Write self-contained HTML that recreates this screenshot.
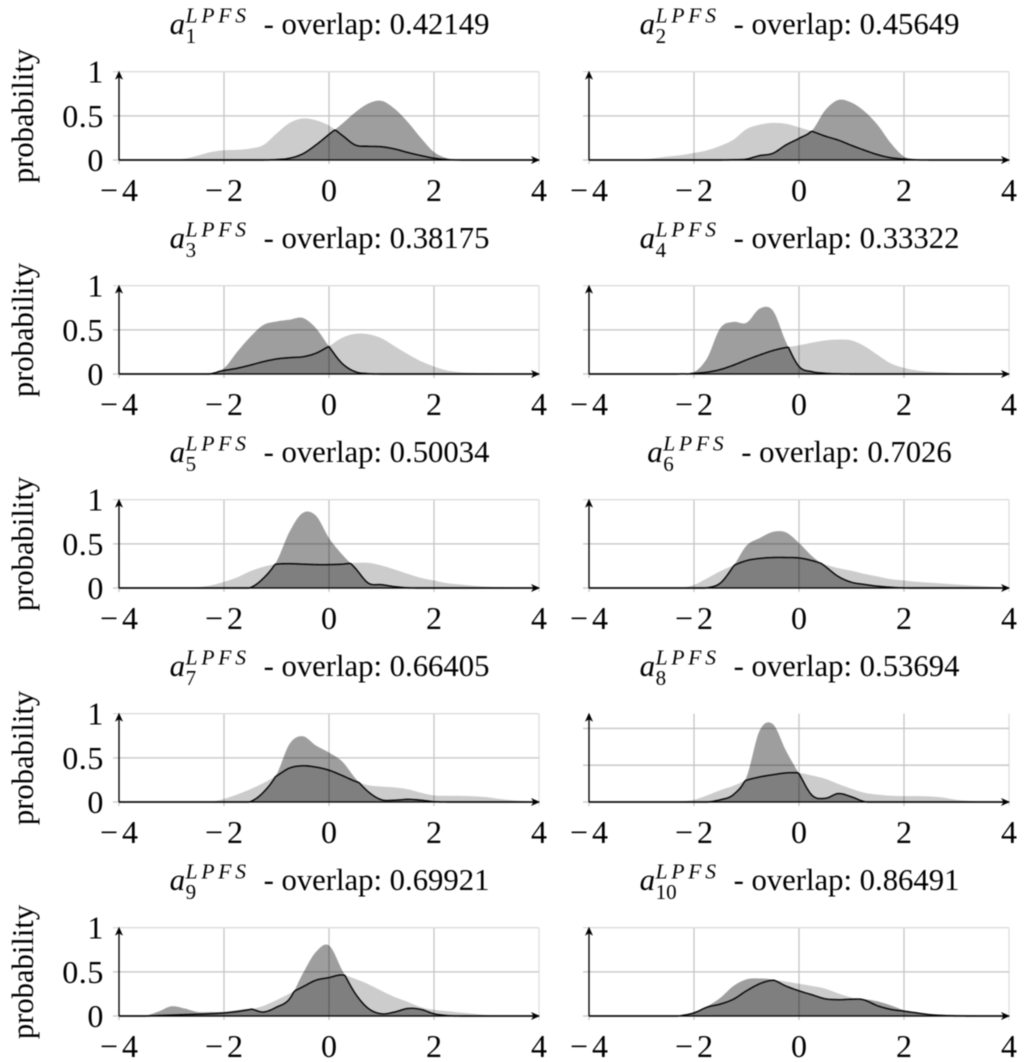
<!DOCTYPE html>
<html lang="en">
<head>
<meta charset="utf-8">
<title>LPFS overlap density charts</title>
<style>
html,body{margin:0;padding:0;background:#fff;}
#chart{display:block;width:1024px;height:1062px;filter:blur(0.55px);font-family:"Liberation Serif",serif;}
</style>
</head>
<body>
<svg id="chart" xmlns="http://www.w3.org/2000/svg" width="1024" height="1062" viewBox="0 0 1024 1062"></svg>
<script>
const xGrid = [-4,-3.75,-3.5,-3.25,-3,-2.75,-2.5,-2.25,-2,-1.75,-1.5,-1.25,-1,-.75,-.5,-.25,0,.25,.5,.75,1,1.25,1.5,1.75,2,2.25,2.5,2.75,3,3.25,3.5,3.75,4];
const xTickLabels = [-4,-2,0,2,4];
const yTickLabels = [0,0.5,1];
const subscripts = ["1","2","3","4","5","6","7","8","9","10"];
const overlapValues = ["0.42149","0.45649","0.38175","0.33322","0.50034","0.7026","0.66405","0.53694","0.69921","0.86491"];
const yMaxValues = [1,1,1,1,1,1,1,1.2,1,1];

const light1 = [0,0,0,0, .002,.015,.05,.09, .11,.115,.13,.17, .30,.42,.47,.45, .39,.28,.17,.155, .15,.125,.085,.05, .02,.005,0,0, 0,0,0,0, 0];
const dark1  = [0,0,0,0, 0,0,0,0, 0,0,0,0, .005,.02,.07,.17, .29,.41,.54,.64, .67,.58,.43,.25, .09,.02,0,0, 0,0,0,0, 0];
const light2 = [0,0,0,0, .005,.02,.04,.055, .08,.11,.16,.23, .35,.40,.42,.41, .37,.325,.27,.225, .165,.11,.06,.025, .01,.002,0,0, 0,0,0,0, 0];
const dark2  = [0,0,0,0, 0,0,0,0, 0,0,0,.003, .01,.05,.075,.17, .245,.335,.565,.68, .65,.55,.395,.19, .04,.005,0,0, 0,0,0,0, 0];
const light3 = [0,0,0,0, 0,0,.002,.015, .04,.065,.10,.14, .17,.185,.195,.235, .315,.41,.455,.45, .405,.315,.225,.145, .085,.04,.02,.013, .01,.006,.003,.001, 0];
const dark3  = [0,0,0,0, 0,0,0,.002, .065,.25,.42,.555, .595,.615,.635,.52, .31,.12,.026,.004, 0,0,0,0, 0,0,0,0, 0,0,0,0, 0];
const light4 = [0,0,0,0, 0,0,0,.002, .008,.02,.05,.10, .16,.215,.265,.30, .325,.355,.38,.39, .38,.315,.215,.12, .07,.04,.025,.018, .01,.006,.003,.001, 0];
const dark4  = [0,0,0,0, 0,0,0,.002, .02,.18,.52,.59, .58,.74,.72,.365, .085,.026,.008,.002, 0,0,0,0, 0,0,0,0, 0,0,0,0, 0];
const light5 = [0,0,0,0, .002,.004,.01,.03, .07,.12,.19,.24, .27,.275,.27,.265, .265,.27,.285,.285, .255,.21,.16,.115, .085,.055,.04,.025, .015,.01,.005,.002, 0];
const dark5  = [0,0,0,0, 0,0,0,0, 0,0,.004,.11, .30,.64,.85,.82, .565,.38,.225,.055, .038,.015,.002,0, 0,0,0,0, 0,0,0,0, 0];
const light6 = [0,0,0,0, 0,0,0,.002, .035,.11,.19,.255, .31,.335,.345,.345, .34,.31,.265,.225, .195,.16,.13,.10, .085,.07,.06,.05, .04,.03,.02,.012, .005];
const dark6  = [0,0,0,0, 0,0,0,0, 0,.003,.055,.245, .48,.565,.635,.63, .51,.36,.245,.13, .065,.04,.02,.008, .001,0,0,0, 0,0,0,0, 0];
const light7 = [0,0,0,0, 0,0,0,.002, .035,.085,.145,.215, .295,.385,.41,.395, .36,.30,.235,.19, .175,.165,.145,.105, .075,.07,.07,.065, .055,.035,.02,.008, .002];
const dark7  = [0,0,0,0, 0,0,0,0, 0,0,.004,.11, .31,.66,.745,.64, .56,.46,.27,.115, .025,.02,.03,.02, .004,0,0,0, 0,0,0,0, 0];
const light8 = [0,0,0,0, 0,0,.002,.01, .03,.09,.16,.22, .295,.34,.37,.395, .395,.36,.315,.245, .18,.125,.10,.085, .08,.08,.075,.06, .03,.015,.005,.001, 0];
const dark8  = [0,0,0,0, 0,0,0,0, 0,0,.03,.10, .34,.97,1.06,.70, .385,.09,.05,.115, .07,.005,0,0, 0,0,0,0, 0,0,0,0, 0];
const light9 = [0,0,0,.005, .01,.015,.02,.025, .035,.05,.075,.115, .18,.255,.33,.405, .435,.465,.42,.36, .285,.215,.16,.10, .07,.055,.04,.025, .01,.004,.001,0, 0];
const dark9  = [0,.001,.004,.05, .11,.085,.045,.045, .045,.065,.08,.045, .10,.195,.48,.725, .80,.52,.255,.085, .025,.045,.085,.075, .025,.005,0,0, 0,0,0,0, 0];
const light10 = [0,0,0,0, 0,0,.002,.006, .035,.10,.135,.19, .285,.365,.405,.39, .365,.34,.31,.255, .21,.18,.115,.075, .055,.035,.02,.018, .015,.01,.005,.002, 0];
const dark10  = [0,0,0,0, 0,0,0,.004, .045,.11,.205,.34, .415,.425,.41,.34, .285,.24,.195,.185, .19,.19,.165,.12, .065,.035,.015,.005, .001,0,0,0, 0];

const lightSeries = [light1,light2,light3,light4,light5,light6,light7,light8,light9,light10];
const darkSeries = [dark1,dark2,dark3,dark4,dark5,dark6,dark7,dark8,dark9,dark10];

const NS = "http://www.w3.org/2000/svg";
const svg = document.getElementById("chart");
const PLOT_W = 420, PLOT_H = 88.3;
const SUBDIV = 10;

function mk(tag, attrs, parent){
  const el = document.createElementNS(NS, tag);
  for (const k in attrs) el.setAttribute(k, attrs[k]);
  parent.appendChild(el);
  return el;
}

function resample(xs, ys){
  const out = [];
  for (let i = 0; i < xs.length - 1; i++){
    const p0 = ys[Math.max(i-1,0)], p1 = ys[i], p2 = ys[i+1], p3 = ys[Math.min(i+2,ys.length-1)];
    for (let s = 0; s < SUBDIV; s++){
      const t = s / SUBDIV;
      const v = 0.5*((2*p1)+(-p0+p2)*t+(2*p0-5*p1+4*p2-p3)*t*t+(-p0+3*p1-3*p2+p3)*t*t*t);
      out.push({x: xs[i] + (xs[i+1]-xs[i])*t, y: Math.max(0, v)});
    }
  }
  out.push({x: xs[xs.length-1], y: ys[ys.length-1]});
  return out;
}

function drawPanel(i){
  const col = i % 2, row = Math.floor(i / 2);
  const left = col === 0 ? 119 : 589;
  const y0 = 160 + row * 214;
  const pxPerUnit = PLOT_H / yMaxValues[i];
  const top = y0 - PLOT_H;
  const sx = v => left + (v + 4) * PLOT_W / 8;
  const sy = v => y0 - v * pxPerUnit;

  const g = mk("g", {}, svg);
  
  

  // grid
  xTickLabels.forEach(t => {
    const ln = mk("line", {x1:sx(t), x2:sx(t), y1:top, y2:y0+4, stroke: t === 4 ? "#dcdcdc" : "#c4c4c4", "stroke-width": t === 4 ? 1.2 : 1.3}, g);
    
    
  });
  yTickLabels.forEach(t => {
    const ln = mk("line", {x1:left-6, x2:left+PLOT_W, y1:sy(t), y2:sy(t), stroke: (t === 1 && yMaxValues[i] === 1) ? "#dcdcdc" : "#c4c4c4", "stroke-width": 1.3}, g);
    
    
  });

  // series
  const L = resample(xGrid, lightSeries[i]);
  const D = resample(xGrid, darkSeries[i]);
  const area = pts => "M" + sx(pts[0].x).toFixed(2) + " " + y0 + pts.map(p => "L" + sx(p.x).toFixed(2) + " " + sy(p.y).toFixed(2)).join("") + "L" + sx(pts[pts.length-1].x).toFixed(2) + " " + y0 + "Z";
  const lightArea = mk("path", {d: area(L), fill:"#000", "fill-opacity":0.2}, g);
  
  
  const darkArea = mk("path", {d: area(D), fill:"#000", "fill-opacity":0.38}, g);
  
  
  const M = L.map((p, k) => ({x: p.x, y: Math.min(p.y, D[k].y)}));
  const overlapLine = mk("path", {d: "M" + M.map(p => sx(p.x).toFixed(2) + " " + sy(p.y).toFixed(2)).join("L"), fill:"none", stroke:"#000", "stroke-width":1.4, "stroke-linejoin":"round"}, g);
  
  

  // axes
  const xAxis = mk("line", {x1:left, x2:left+PLOT_W-3, y1:y0, y2:y0, stroke:"#000", "stroke-width":1.3}, g);
  
  
  const yAxis = mk("line", {x1:left, x2:left, y1:y0, y2:top+1, stroke:"#000", "stroke-width":1.3}, g);
  
  
  const xr = left + PLOT_W + 1;
  const xArrow = mk("path", {d:`M${xr} ${y0}L${xr-9} ${y0-4}L${xr-6.5} ${y0}L${xr-9} ${y0+4}Z`, fill:"#000"}, g);
  
  
  const yt = top - 1;
  const yArrow = mk("path", {d:`M${left} ${yt}L${left-4} ${yt+9}L${left} ${yt+6.5}L${left+4} ${yt+9}Z`, fill:"#000"}, g);
  
  

  // x tick labels
  xTickLabels.forEach(t => {
    const lab = mk("text", {x:sx(t), y:y0+41, "text-anchor":"middle", "font-size":32, fill:"#000"}, g);
    
    
    if (t < 0){
      const m = mk("tspan", {"letter-spacing":"4"}, lab);
      m.textContent = "\u2212";
      const d = mk("tspan", {}, lab);
      d.textContent = String(Math.abs(t));
    } else {
      lab.textContent = String(t);
    }
  });

  // y tick labels and axis title for left column
  if (col === 0){
    yTickLabels.forEach(t => {
      const lab = mk("text", {x:left-15, y:sy(t)+11, "text-anchor":"end", "font-size":32, "letter-spacing":"0.6", fill:"#000"}, g);
      
      
      lab.textContent = String(t);
    });
    const cy = y0 - 44;
    const yTitle = mk("text", {x:0, y:0, transform:`translate(33 ${cy}) rotate(-90)`, "text-anchor":"middle", "font-size":30.6, fill:"#000"}, g);
    
    
    yTitle.textContent = "probability";
  }

  // title
  const base = y0 - 126;
  const title = mk("g", {}, g);
  
  
  const a = mk("text", {y:base, "font-size":31, "font-style":"italic", fill:"#000"}, title);
  a.textContent = "a";
  const sup = mk("text", {y:base-11.5, "font-size":21.5, "font-style":"italic", "letter-spacing":"3.8", fill:"#000"}, title);
  sup.textContent = "LPFS";
  const sub = mk("text", {y:base+9, "font-size":21, fill:"#000"}, title);
  sub.textContent = subscripts[i];
  const rest = mk("text", {y:base, "font-size":30.7, fill:"#000", "xml:space":"preserve"}, title);
  rest.textContent = "- overlap: " + overlapValues[i];
  const aW = 16, supW = 67, gap = 11;
  const restW = rest.getComputedTextLength();
  const total = aW + supW + gap + restW;
  const startX = left + PLOT_W/2 - total/2 + 0.5;
  a.setAttribute("x", startX);
  sup.setAttribute("x", startX + aW);
  sub.setAttribute("x", startX + aW);
  rest.setAttribute("x", startX + aW + supW + gap);
}

for (let i = 0; i < lightSeries.length; i++) drawPanel(i);
</script>
</body>
</html>
